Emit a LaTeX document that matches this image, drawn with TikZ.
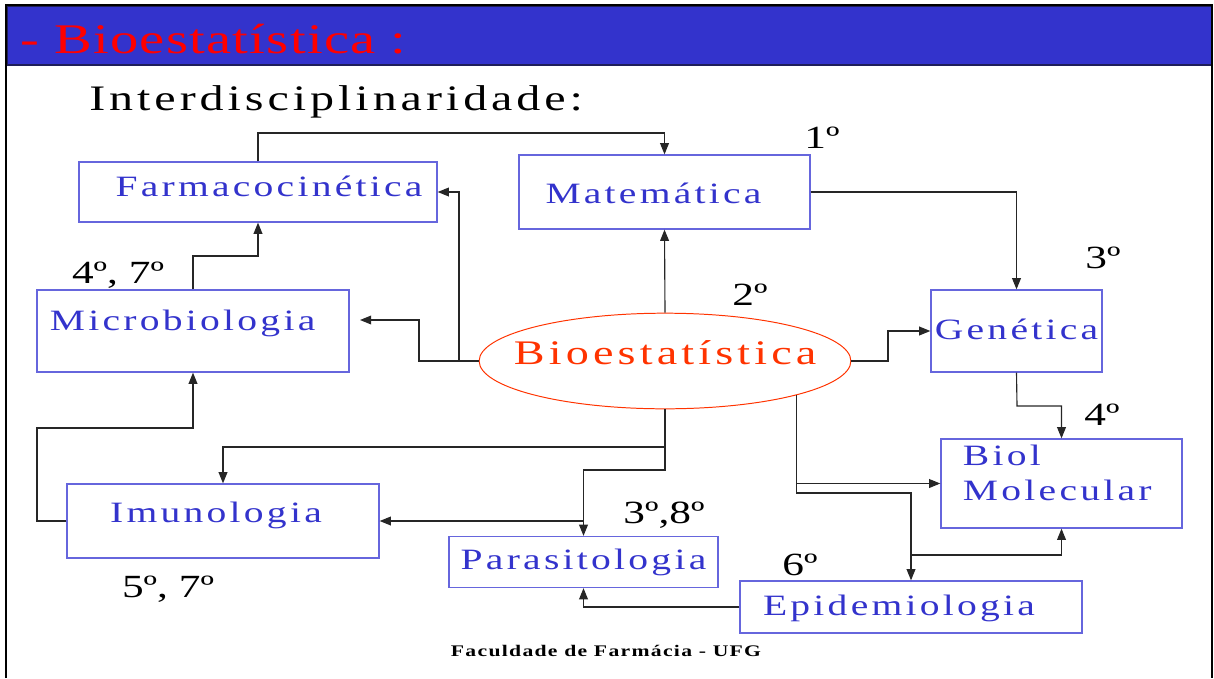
\documentclass[tikz,border=0pt]{standalone}
\usepackage{fontspec}
\setmainfont{Liberation Serif}[FakeStretch=1.34]
\newfontfamily\boxfont[FakeStretch=1.34, LetterSpace=11]{Liberation Serif}
\newfontfamily\hubfont[FakeStretch=1.34, LetterSpace=12]{Liberation Serif}
\newfontfamily\headfont[FakeStretch=1.34, LetterSpace=3]{Liberation Serif}
\newfontfamily\ordfont[FakeStretch=1.34]{Liberation Serif}
\usetikzlibrary{arrows.meta,shapes.geometric}
\definecolor{barblue}{RGB}{51,51,204}
\definecolor{barline}{RGB}{30,30,90}
\definecolor{boxline}{RGB}{102,102,221}
\definecolor{boxtext}{RGB}{51,51,204}
\definecolor{hubred}{RGB}{255,51,0}
\definecolor{titlered}{RGB}{255,0,0}

\begin{document}
\begin{tikzpicture}[
      x=0.025cm, y=-0.025cm,
      subj/.style={draw=boxline, line width=0.9pt, text=boxtext, inner sep=0pt, font=\boxfont\fontsize{21}{25.5}\selectfont},
      hub/.style={ellipse, draw=hubred, line width=0.7pt, text=hubred, font=\hubfont\fontsize{24.5}{29}\selectfont},
      ord/.style={anchor=base, font=\ordfont\fontsize{23}{27}\selectfont},
      link/.style={draw=black!85, line width=0.8pt, -{Triangle[length=0.28cm, width=0.22cm]}}
    ]
      \useasboundingbox (0,0) rectangle (1214,678);

      % frame and title bar
      \fill[barblue, draw=barline, line width=0.8pt] (7,6) rectangle (1212,65);
      \draw[line width=1.6pt] (6,678) -- (6,5) -- (1212,5) -- (1212,678);
      \node[anchor=base west, inner sep=0pt, text=titlered, font=\headfont\fontsize{30}{36}\selectfont] (title) at (20,53) {- Bioestatística :};
      \node[anchor=base west, inner sep=0pt, font=\boxfont\fontsize{25.5}{30}\selectfont] (subtitle) at (89,110) {Interdisciplinaridade:};

      % subjects
      \node[subj, minimum width=8.95cm, text height=0.85cm, text depth=0.65cm] (farm) at (258,192) {\hspace*{0.55cm}Farmacocinética};
      \node[subj, minimum width=7.275cm, text height=1.2cm, text depth=0.65cm] (mat) at (664.5,192) {Matemática\hspace*{0.55cm}};
      \node[subj, text width=7.15cm, inner xsep=0.325cm, align=left, text height=1.0cm, text depth=1.05cm] (micro) at (193,331) {Microbiologia};
      \node[subj, minimum width=4.275cm, text height=1.225cm, text depth=0.825cm] (gen) at (1016.5,331) {Genética};
      \node[subj, text width=4.925cm, inner xsep=0.55cm, align=left, text height=0.65cm, text depth=1.575cm] (biol) at (1061.5,483.5) {Biol\\Molecular};
      \node[subj, minimum width=7.8cm, text height=0.95cm, text depth=0.9cm] (imuno) at (223,521) {Imunologia\hspace*{0.35cm}};
      \node[subj, minimum width=6.725cm, text height=0.825cm, text depth=0.45cm] (para) at (583.5,562) {Parasitologia};
      \node[subj, minimum width=8.55cm, text height=0.85cm, text depth=0.45cm] (epid) at (911,607) {Epidemiologia\hspace*{0.6cm}};

      \node[hub, text width=7.55cm, align=center, inner xsep=-0.49cm, inner ysep=0.32cm, text height=0.6cm, text depth=0.45cm] (bio) at (665,361) {Bioestatística};

      % order labels
      \node[ord] (o1) at (822,148) {1º};
      \node[ord] (o2) at (750,305) {2º};
      \node[ord] (o3) at (1103,268) {3º};
      \node[ord] (o47) at (118,283) {4º, 7º};
      \node[ord] (o4) at (1102,425) {4º};
      \node[ord] (o38) at (664,523) {3º,8º};
      \node[ord] (o6) at (800,575) {6º};
      \node[ord] (o57) at (168,597) {5º, 7º};

      \node[anchor=base, inner sep=0pt, font=\bfseries\addfontfeatures{LetterSpace=8}\fontsize{11.5}{14}\selectfont] (foot) at (606,656) {Faculdade de Farmácia - UFG};

      % bends
      \coordinate (topbus) at (258,133);
      \coordinate (mfbend) at (193,256);
      \coordinate (imleft) at (37,428);
      \coordinate (mbend) at (419,361);
      \coordinate (microtip) at (360,320);
      \coordinate (farmbend) at (459,361);
      \coordinate (genbend) at (888,361);
      \coordinate (gbbend) at (1017,406);
      \coordinate (epbend) at (911,493);
      \coordinate (eprise) at (911,555);
      \coordinate (lowbus) at (665,447);
      \coordinate (parabend) at (665,470);

      % connectors
      \draw[link] (farm.north) -- (topbus) -| (mat.north);
      \draw[link] (bio.north) -- (mat.south);
      \draw[link] (mat.east) -| (gen.north);
      \draw[link] (bio.east) -- (genbend) |- (gen.west);
      \draw[link] (gen.south) -- (gbbend) -| (biol.north);
      \draw[link] (bio.south east) |- (biol.west);
      \draw[link] (bio.south east) |- (epbend) -- (epid.north);
      \draw[link] (eprise) -| (biol.south);
      \draw[link] (epid.west) -| (para.south);
      \draw[link] (bio.south) -- (lowbus) -| (imuno.north);
      \draw[link] (lowbus) -- (parabend) -| (para.north);
      \draw[link] (para.north |- imuno.east) -- (imuno.east);
      \draw[link] (imuno.west) -| (imleft) -| (micro.south);
      \draw[link] (micro.north) -- (mfbend) -| (farm.south);
      \draw[link] (bio.west) -- (mbend) |- (microtip);
      \draw[link] (farmbend) |- (farm.east);
    \end{tikzpicture}
\end{document}
